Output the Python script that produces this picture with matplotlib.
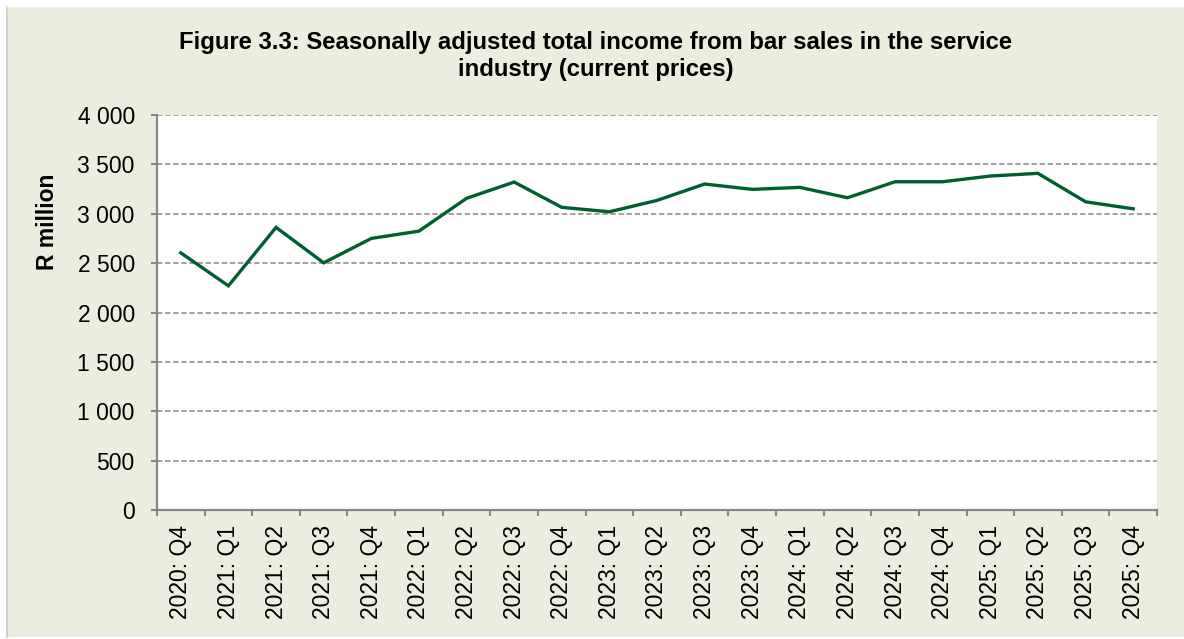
import matplotlib
matplotlib.use("Agg")
import matplotlib.pyplot as plt
from matplotlib.patches import Rectangle
from matplotlib.lines import Line2D
import numpy as np

plt.rcParams['font.family'] = ['Liberation Sans', 'DejaVu Sans']

categories = ["2020: Q4",
              "2021: Q1", "2021: Q2", "2021: Q3", "2021: Q4",
              "2022: Q1", "2022: Q2", "2022: Q3", "2022: Q4",
              "2023: Q1", "2023: Q2", "2023: Q3", "2023: Q4",
              "2024: Q1", "2024: Q2", "2024: Q3", "2024: Q4",
              "2025: Q1", "2025: Q2", "2025: Q3", "2025: Q4"]
income = [2604, 2270, 2862, 2503, 2750, 2824, 3156, 3321, 3065, 3020,
          3135, 3301, 3247, 3267, 3162, 3324, 3324, 3382, 3409, 3121, 3050]
yticks = [0, 500, 1000, 1500, 2000, 2500, 3000, 3500, 4000]
ytick_labels = ["0", "500", "1 000", "1 500", "2 000", "2 500", "3 000", "3 500", "4 000"]
title = ("Figure 3.3: Seasonally adjusted total income from bar sales in the service\n"
         "industry (current prices)")
ylabel = "R million"

W, H = 1184, 639
fig = plt.figure(figsize=(W / 100, H / 100), dpi=100, facecolor='white')

bg = '#EBEEDE'
# background panel
fig.patches.append(Rectangle((8 / W, 2 / H), 1 - 8 / W, 1 - 9 / H,
                             transform=fig.transFigure, facecolor=bg,
                             edgecolor='none', zorder=-2))
fig.lines.append(Line2D([7 / W, 7 / W], [2 / H, 1 - 7 / H], transform=fig.transFigure,
                        color='#D0D0D0', lw=1.5, zorder=-1))
fig.lines.append(Line2D([7 / W, 1], [1 - 7 / H, 1 - 7 / H], transform=fig.transFigure,
                        color='#F0F0F0', lw=1.0, zorder=-1))

left, right, top, bottom = 157 / W, 1157 / W, 1 - 115 / H, 1 - 510 / H
ax = fig.add_axes([left, bottom, right - left, top - bottom])
ax.set_facecolor('white')

x = np.arange(len(categories))
ax.plot(x, income, color='#005F2F', lw=2.4, solid_joinstyle='miter', zorder=3)

ax.set_xlim(-0.5, len(categories) - 0.5)
ax.set_ylim(0, 4000)
ax.set_yticks(yticks)
ax.set_yticklabels(ytick_labels)
ax.yaxis.grid(True, color='#868686', lw=1.1, linestyle=(0, (3.5, 1.8)))
ax.set_axisbelow(True)

ax.set_xticks(x)
ax.set_xticklabels(categories, rotation=90)
ax.set_xticks(np.arange(len(categories) + 1) - 0.5, minor=True)
ax.tick_params(axis='x', which='major', length=0, pad=11, labelsize=16.5, colors='black')
ax.tick_params(axis='x', which='minor', length=4, width=1.5, color='#868686', direction='out')
ax.tick_params(axis='y', which='major', length=4, width=1.5, color='#868686', pad=12,
               labelsize=16.5, labelcolor='black')

for s in ['top', 'right']:
    ax.spines[s].set_visible(False)
for s in ['left', 'bottom']:
    ax.spines[s].set_color('#868686')
    ax.spines[s].set_linewidth(1.6)

fig.text(596 / W, 1 - 56 / H, title, ha='center', va='center', fontsize=17.2,
         fontweight='bold', linespacing=1.2)
fig.text(47 / W, 1 - 222 / H, ylabel, ha='center', va='center', rotation=90,
         fontsize=16.5, fontweight='bold')

fig.savefig('out.png', dpi=100, facecolor='white')
